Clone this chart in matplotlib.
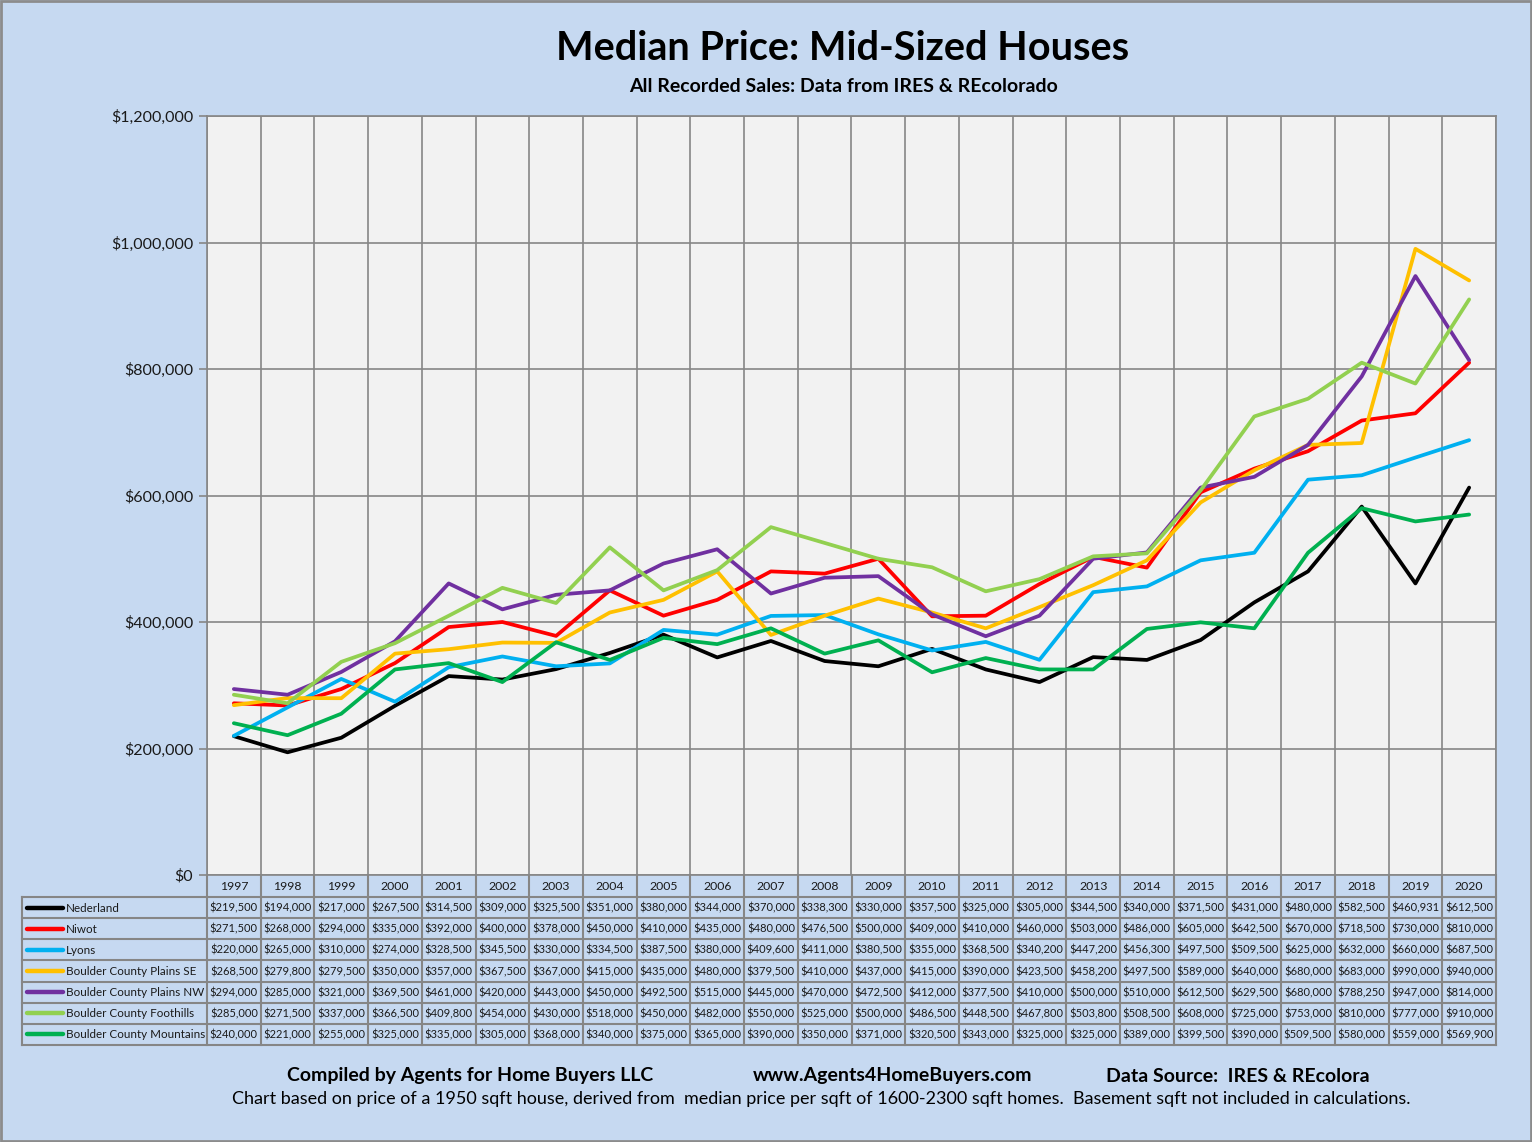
import matplotlib
matplotlib.use("Agg")
import matplotlib.pyplot as plt
from matplotlib.patches import Rectangle
from matplotlib.ticker import FuncFormatter, MultipleLocator

plt.rcParams['font.family'] = ['Lato', 'DejaVu Sans']

years = [str(y) for y in range(1997, 2021)]
series_names = ["Nederland", "Niwot", "Lyons", "Boulder County Plains SE",
                "Boulder County Plains NW", "Boulder County Foothills",
                "Boulder County Mountains"]
colors = ["#000000", "#FF0000", "#00B0F0", "#FFC000", "#7030A0", "#92D050", "#00B050"]

nederland = [219500, 194000, 217000, 267500, 314500, 309000, 325500, 351000, 380000, 344000,
             370000, 338300, 330000, 357500, 325000, 305000, 344500, 340000, 371500, 431000,
             480000, 582500, 460931, 612500]
niwot = [271500, 268000, 294000, 335000, 392000, 400000, 378000, 450000, 410000, 435000,
         480000, 476500, 500000, 409000, 410000, 460000, 503000, 486000, 605000, 642500,
         670000, 718500, 730000, 810000]
lyons = [220000, 265000, 310000, 274000, 328500, 345500, 330000, 334500, 387500, 380000,
         409600, 411000, 380500, 355000, 368500, 340200, 447200, 456300, 497500, 509500,
         625000, 632000, 660000, 687500]
plains_se = [268500, 279800, 279500, 350000, 357000, 367500, 367000, 415000, 435000, 480000,
             379500, 410000, 437000, 415000, 390000, 423500, 458200, 497500, 589000, 640000,
             680000, 683000, 990000, 940000]
plains_nw = [294000, 285000, 321000, 369500, 461000, 420000, 443000, 450000, 492500, 515000,
             445000, 470000, 472500, 412000, 377500, 410000, 500000, 510000, 612500, 629500,
             680000, 788250, 947000, 814000]
foothills = [285000, 271500, 337000, 366500, 409800, 454000, 430000, 518000, 450000, 482000,
             550000, 525000, 500000, 486500, 448500, 467800, 503800, 508500, 608000, 725000,
             753000, 810000, 777000, 910000]
mountains = [240000, 221000, 255000, 325000, 335000, 305000, 368000, 340000, 375000, 365000,
             390000, 350000, 371000, 320500, 343000, 325000, 325000, 389000, 399500, 390000,
             509500, 580000, 559000, 569900]

all_series = [nederland, niwot, lyons, plains_se, plains_nw, foothills, mountains]

W, H = 1532, 1142
BG = "#C6D9F1"
GRID = "#868686"
fig = plt.figure(figsize=(W / 100, H / 100), dpi=100, facecolor=BG)

# pixel layout
L, R, T, B = 207, 1496, 116, 875
ax = fig.add_axes([L / W, 1 - B / H, (R - L) / W, (B - T) / H])
ax.set_facecolor("#F2F2F2")
n = len(years)
x = list(range(n))
for vals, c, name in zip(all_series, colors, series_names):
    ax.plot(x, vals, color=c, lw=2.7, label=name, solid_capstyle="round", zorder=3)
ax.set_xlim(-0.5, n - 0.5)
ax.set_ylim(0, 1200000)
ax.yaxis.set_major_locator(MultipleLocator(200000))
ax.yaxis.set_major_formatter(FuncFormatter(lambda v, p: "${:,.0f}".format(v)))
ax.set_xticks([])
ax.set_xticks([i - 0.5 for i in range(n + 1)], minor=True)
ax.grid(True, axis="y", color=GRID, lw=1.2, zorder=1)
ax.grid(True, axis="x", which="minor", color=GRID, lw=1.2, zorder=1)
for s in ax.spines.values():
    s.set_color(GRID)
    s.set_linewidth(1.2)
ax.tick_params(axis="y", length=6, width=1.2, color=GRID, labelsize=11.5, pad=4, labelcolor="#1a1a1a")
ax.tick_params(axis="x", which="minor", length=0)

# overlay axes in pixel coordinates for table and texts
ov = fig.add_axes([0, 0, 1, 1], facecolor="none")
ov.set_xlim(0, W)
ov.set_ylim(H, 0)
ov.axis("off")

# figure border
ov.add_patch(Rectangle((1, 1), W - 2, H - 2, fill=False, edgecolor="#8c8c8c", lw=2))

# titles
ov.text(843, 48, "Median Price: Mid-Sized Houses", ha="center", va="center",
        fontsize=28.5, fontweight="bold", color="#000000")
ov.text(843, 87, "All Recorded Sales: Data from IRES & REcolorado", ha="center", va="center",
        fontsize=14, fontweight="bold", color="#000000")

# data table
colw = (R - L) / n
hdr_top, hdr_bot = B, 897
row_h = (1045 - 897) / len(series_names)
lab_left = 22
tlw = 1.5
for i, yr in enumerate(years):
    cx = L + (i + 0.5) * colw
    ov.text(cx, (hdr_top + hdr_bot) / 2 + 1, yr, ha="center", va="center", fontsize=8.8, color="#1a1a1a")
for k in range(n + 1):
    xx = L + k * colw
    ov.plot([xx, xx], [hdr_top, 1045], color=GRID, lw=tlw)
for r in range(len(series_names) + 1):
    yy = hdr_bot + r * row_h
    ov.plot([lab_left, R], [yy, yy], color=GRID, lw=tlw)
ov.plot([lab_left, lab_left], [hdr_bot, 1045], color=GRID, lw=tlw)
for r, (name, vals, c) in enumerate(zip(series_names, all_series, colors)):
    cy = hdr_bot + (r + 0.5) * row_h
    ov.plot([27, 63], [cy, cy], color=c, lw=3.2, solid_capstyle="round")
    ov.text(66, cy + 0.5, name, ha="left", va="center", fontsize=8.4, color="#1a1a1a")
    for i, v in enumerate(vals):
        cx = L + (i + 0.5) * colw
        ov.text(cx, cy + 0.5, "${:,.0f}".format(v), ha="center", va="center",
                fontsize=8.0, color="#1a1a1a")

# footer
ov.text(470, 1076, "Compiled by Agents for Home Buyers LLC", ha="center", va="center",
        fontsize=14, fontweight="bold")
ov.text(893, 1076, "www.Agents4HomeBuyers.com", ha="center", va="center",
        fontsize=14, fontweight="bold")
ov.text(1238, 1076, "Data Source:  IRES & REcolora", ha="center", va="center",
        fontsize=14, fontweight="bold")
ov.text(821, 1099, "Chart based on price of a 1950 sqft house, derived from  median price per sqft of 1600-2300 sqft homes.  Basement sqft not included in calculations.",
        ha="center", va="center", fontsize=13)

fig.savefig("out.png", dpi=100, facecolor=BG)
